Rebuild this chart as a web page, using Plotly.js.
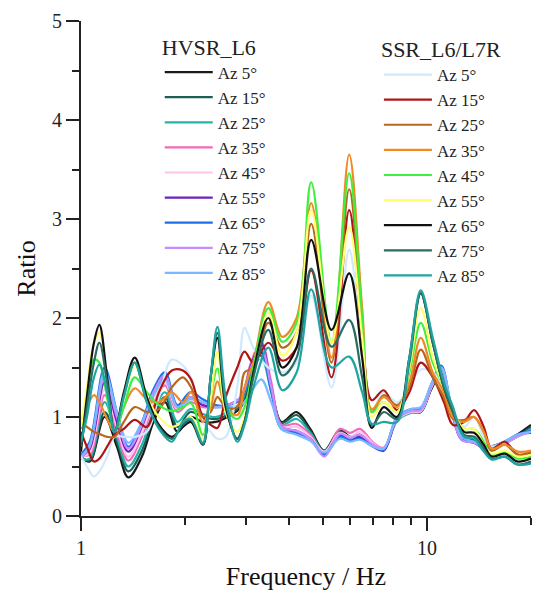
<!DOCTYPE html>
<html>
<head>
<meta charset="utf-8">
<script src="https://cdn.plot.ly/plotly-3.0.1.min.js"></script>
<style>html,body{margin:0;padding:0;background:#fff;}#chart{width:533px;height:595px;}</style>
</head>
<body>
<div id="chart"></div>
<script>
// ---------- data ----------
const azLabels = ["Az 5°","Az 15°","Az 25°","Az 35°","Az 45°","Az 55°","Az 65°","Az 75°","Az 85°"];

// HVSR_L6 frequency control points (Hz)
const freqH = [1.0,1.06,1.17,1.27,1.37,1.5,1.62,1.75,1.9,2.07,2.25,2.45,2.65,2.9,3.1,3.32,3.55,3.8,4.2,4.6,5.05,5.6,6.0,6.4,7.0,7.5,8.2,9.0,9.6,10.3,11.0,11.8,12.6,13.7,15.0,16.5,18.2,20];
const hv5  = [0.60,0.55,1.00,0.70,0.39,0.60,0.95,1.15,0.85,1.00,0.95,0.95,1.00,1.10,1.40,1.65,1.30,0.95,1.05,0.88,0.66,0.87,0.80,0.82,0.72,0.67,0.97,1.05,1.05,1.28,1.45,1.08,0.80,0.76,0.70,0.74,0.82,0.92];
const hv15 = [0.60,0.56,1.05,0.75,0.45,0.66,1.00,1.20,0.90,1.05,1.00,0.98,1.02,1.12,1.42,1.62,1.28,0.94,1.02,0.86,0.66,0.86,0.79,0.82,0.72,0.67,0.97,1.05,1.05,1.30,1.47,1.08,0.80,0.76,0.69,0.73,0.80,0.90];
const hv25 = [0.58,0.58,1.15,0.80,0.50,0.72,1.05,1.25,0.95,1.08,1.03,1.00,1.05,1.15,1.45,1.60,1.25,0.92,0.98,0.84,0.65,0.84,0.78,0.80,0.71,0.67,0.96,1.04,1.05,1.30,1.48,1.07,0.79,0.75,0.69,0.72,0.80,0.88];
const hv35 = [0.62,0.62,1.22,0.85,0.56,0.80,1.12,1.32,1.05,1.15,1.10,1.10,1.12,1.20,1.55,1.76,1.35,0.92,0.93,0.82,0.63,0.88,0.84,0.88,0.74,0.69,0.98,1.06,1.06,1.30,1.48,1.06,0.78,0.74,0.68,0.72,0.80,0.86];
const hv45 = [0.60,0.64,1.28,0.90,0.60,0.84,1.15,1.35,1.08,1.18,1.12,1.10,1.12,1.20,1.50,1.72,1.30,0.90,0.90,0.80,0.65,0.84,0.80,0.85,0.73,0.68,0.97,1.05,1.06,1.30,1.48,1.06,0.78,0.74,0.68,0.72,0.80,0.86];
const hv55 = [0.60,0.68,1.35,0.95,0.65,0.90,1.22,1.40,1.10,1.20,1.12,1.10,1.12,1.20,1.52,1.74,1.30,0.90,0.86,0.78,0.62,0.82,0.76,0.80,0.70,0.66,0.98,1.07,1.08,1.32,1.50,1.05,0.77,0.74,0.66,0.72,0.82,0.84];
const hv65 = [0.62,0.75,1.50,1.05,0.70,0.95,1.28,1.45,1.12,1.25,1.18,1.12,1.12,1.18,1.45,1.68,1.25,0.88,0.84,0.78,0.62,0.80,0.76,0.78,0.70,0.67,1.00,1.08,1.08,1.33,1.52,1.08,0.78,0.74,0.68,0.73,0.82,0.86];
const hv75 = [0.58,0.70,1.40,1.00,0.68,0.92,1.25,1.42,1.10,1.20,1.15,1.10,1.12,1.20,1.50,1.70,1.30,0.90,0.86,0.78,0.60,0.83,0.79,0.82,0.72,0.68,0.98,1.06,1.07,1.31,1.50,1.06,0.77,0.74,0.67,0.72,0.80,0.85];
const hv85 = [0.60,0.72,1.45,1.05,0.74,0.95,1.22,1.38,1.10,1.18,1.15,1.10,1.10,1.12,1.25,1.38,1.15,0.88,0.82,0.76,0.64,0.78,0.75,0.77,0.70,0.68,1.00,1.08,1.10,1.33,1.50,1.10,0.80,0.75,0.70,0.74,0.82,0.85];

// SSR_L6/L7R frequency control points (Hz)
const freqS = [1.0,1.04,1.09,1.13,1.19,1.25,1.33,1.43,1.55,1.68,1.83,1.97,2.08,2.25,2.37,2.48,2.62,2.83,2.97,3.15,3.48,3.82,4.2,4.63,5.3,5.96,6.5,6.93,7.5,8.2,8.9,9.6,10.4,11.2,11.9,12.8,13.7,14.6,15.4,16.8,18.3,20];
const ss5  = [0.60,0.50,0.40,0.45,0.60,0.80,0.80,0.80,0.85,1.20,1.58,1.52,1.40,0.95,0.85,0.78,0.80,1.30,1.90,1.70,1.50,1.45,1.55,2.23,1.30,2.69,1.60,1.05,1.25,1.15,1.30,1.48,1.45,1.30,1.05,0.90,1.00,0.80,0.70,0.74,0.65,0.65];
const ss15 = [0.85,0.70,0.55,0.58,0.70,0.82,0.88,0.97,0.90,1.25,1.47,1.47,1.38,1.00,0.92,0.89,1.20,1.50,1.66,1.55,1.75,1.57,1.70,2.48,1.40,3.09,1.80,1.17,1.27,1.07,1.25,1.55,1.40,1.15,0.92,0.95,1.07,0.90,0.68,0.75,0.62,0.63];
const ss25 = [0.95,0.90,0.85,0.83,0.80,0.80,0.95,1.10,1.05,1.08,1.30,1.40,1.30,1.00,1.05,1.20,1.10,1.10,1.45,1.50,1.95,1.70,1.85,2.95,1.55,3.30,1.90,1.05,1.22,1.12,1.30,1.68,1.40,1.20,0.98,0.97,1.00,0.85,0.66,0.72,0.62,0.65];
const ss35 = [0.95,1.10,1.22,1.15,0.98,0.85,1.10,1.29,1.18,1.15,1.25,1.15,1.25,0.95,1.10,1.36,1.10,1.02,1.30,1.55,2.16,1.81,2.00,3.16,1.60,3.65,2.10,1.08,1.20,1.10,1.35,1.80,1.45,1.25,1.00,0.95,1.00,0.85,0.68,0.72,0.65,0.66];
const ss45 = [0.88,1.20,1.58,1.55,1.20,0.85,1.10,1.40,1.25,1.12,1.06,1.10,1.14,0.82,1.20,1.49,1.10,0.98,1.10,1.50,2.10,1.76,1.95,3.37,1.75,3.46,2.00,1.05,1.15,1.05,1.45,1.95,1.55,1.30,1.05,0.88,0.88,0.75,0.62,0.65,0.58,0.60];
const ss55 = [0.90,1.30,1.75,1.85,1.35,0.85,1.20,1.52,1.20,1.00,0.90,0.95,1.00,0.78,1.20,1.66,1.05,0.85,1.00,1.40,2.05,1.62,1.85,3.09,1.75,2.92,1.80,1.00,1.15,1.05,1.50,2.10,1.60,1.30,1.05,0.88,0.88,0.72,0.63,0.66,0.60,0.62];
const ss65 = [0.65,1.20,1.75,1.93,1.40,0.85,1.25,1.60,1.20,0.92,0.80,0.90,0.95,0.72,1.40,1.80,1.10,0.78,0.95,1.45,2.00,1.50,1.70,2.79,1.88,2.45,1.60,0.89,1.10,1.00,1.60,2.25,1.75,1.30,1.05,0.85,0.84,0.72,0.60,0.63,0.55,0.58];
const ss75 = [0.70,1.10,1.55,1.75,1.35,0.85,1.22,1.55,1.15,0.90,0.78,0.92,0.97,0.72,1.40,1.85,1.15,0.78,0.95,1.40,1.88,1.42,1.60,2.50,1.71,1.98,1.40,0.92,1.05,0.98,1.55,2.25,1.75,1.30,1.05,0.82,0.80,0.68,0.58,0.60,0.52,0.55];
const ss85 = [0.75,1.00,1.40,1.53,1.25,0.85,1.20,1.55,1.15,0.88,0.75,0.95,0.98,0.74,1.40,1.91,1.20,0.75,0.92,1.30,1.70,1.27,1.45,2.29,1.50,1.61,1.25,0.93,0.95,0.95,1.60,2.28,1.80,1.35,1.10,0.80,0.78,0.65,0.57,0.60,0.52,0.53];

// ---------- styles ----------
const hvColors = ["#1a1a1a","#1d5e55","#26b3a8","#f46ab8","#ffc4ea","#6a22c0","#1f6fe8","#c78cff","#7ab8ff"];
const ssColors = ["#cfe9ff","#b01515","#b8671f","#f08a25","#3ef03e","#ffff70","#111111","#2a6b63","#1fa5a0"];
const hvSeries = [hv5,hv15,hv25,hv35,hv45,hv55,hv65,hv75,hv85];
const ssSeries = [ss5,ss15,ss25,ss35,ss45,ss55,ss65,ss75,ss85];

const serif = "Liberation Serif";
const traces = [];
hvSeries.forEach((ys, i) => traces.push({
  x: freqH, y: ys, type: "scatter", mode: "lines", name: azLabels[i],
  line: {color: hvColors[i], width: 2.2, shape: "spline", smoothing: 1.0},
  legend: "legend"
}));
ssSeries.forEach((ys, i) => traces.push({
  x: freqS, y: ys, type: "scatter", mode: "lines", name: azLabels[i],
  line: {color: ssColors[i], width: 2.2, shape: "spline", smoothing: 1.0},
  legend: "legend2"
}));

function legendBase() {
  return {
    bgcolor: "rgba(0,0,0,0)", borderwidth: 0,
    font: {family: serif, size: 17, color: "#222"},
    xanchor: "left", yanchor: "top", traceorder: "normal", itemwidth: 48
  };
}

const layout = {
  width: 533, height: 595,
  margin: {l: 81, r: 2, t: 21, b: 79},
  paper_bgcolor: "#fff", plot_bgcolor: "#fff",
  showlegend: true,
  font: {family: serif, color: "#222"},
  xaxis: {
    type: "log", range: [0, Math.log10(20)],
    tickmode: "array", tickvals: [1, 10], ticktext: ["1", "10"],
    ticks: "outside", ticklen: 13, tickwidth: 2, tickcolor: "#222",
    minor: {tickmode: "array", tickvals: [2,3,4,5,6,7,8,9,20], ticks: "outside", ticklen: 7, tickwidth: 2, tickcolor: "#222", showgrid: false},
    showline: true, linecolor: "#222", linewidth: 2, showgrid: false, zeroline: false,
    tickfont: {family: serif, size: 20, color: "#222"},
    title: {text: "Frequency / Hz", font: {family: serif, size: 26, color: "#111"}, standoff: 9},
    automargin: false
  },
  yaxis: {
    range: [0, 5], tickmode: "linear", tick0: 0, dtick: 1,
    ticks: "outside", ticklen: 13, tickwidth: 2, tickcolor: "#222",
    minor: {dtick: 0.5, ticks: "outside", ticklen: 7, tickwidth: 2, tickcolor: "#222", showgrid: false},
    showline: true, linecolor: "#222", linewidth: 2, showgrid: false, zeroline: false,
    tickfont: {family: serif, size: 20, color: "#222"},
    title: {text: "Ratio", font: {family: serif, size: 26, color: "#111"}, standoff: 9},
    automargin: false
  },
  legend: Object.assign(legendBase(), {
    x: 0.175, y: 0.99,
    title: {text: "HVSR_L6", font: {family: serif, size: 22, color: "#222"}}
  }),
  legend2: Object.assign(legendBase(), {
    x: 0.662, y: 0.985,
    title: {text: "SSR_L6/L7R", font: {family: serif, size: 22, color: "#222"}}
  })
};

Plotly.newPlot("chart", traces, layout, {displayModeBar: false, staticPlot: true});
</script>
</body>
</html>
